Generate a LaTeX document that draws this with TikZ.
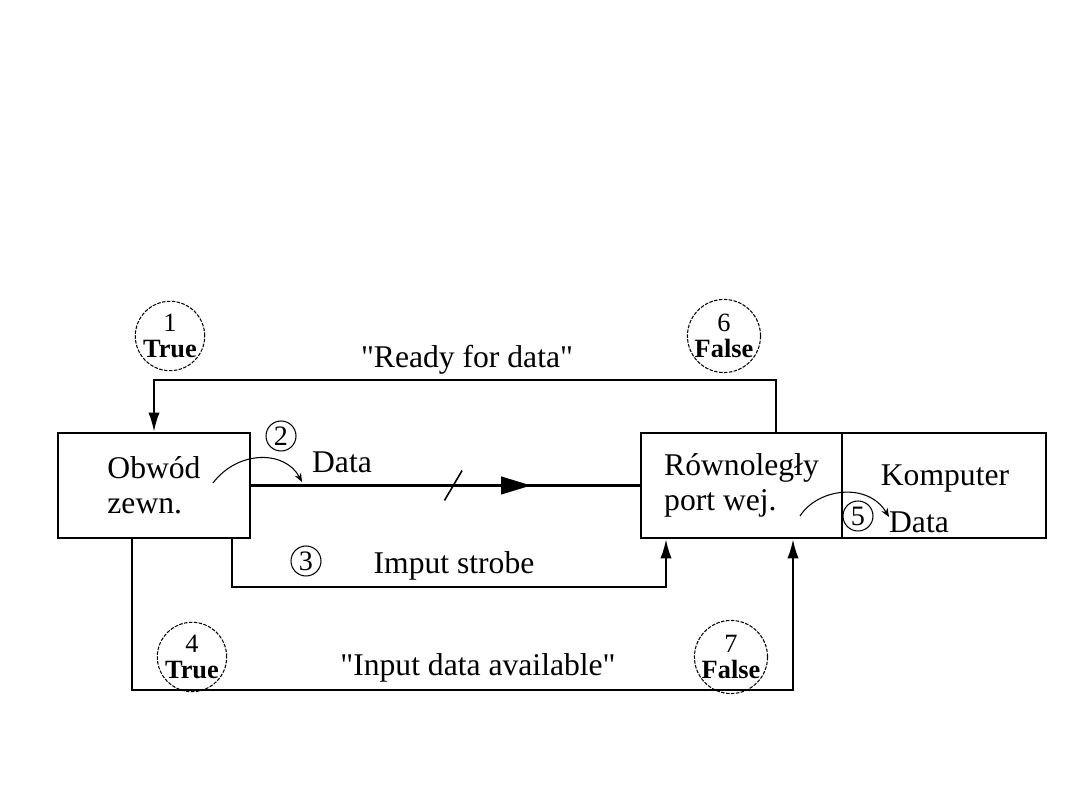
\documentclass[tikz,border=0pt]{standalone}
\usepackage{fontspec}
\setmainfont{Liberation Serif}[Ligatures=TeXOff]
\usetikzlibrary{arrows.meta,positioning,calc,decorations.markings}

\begin{document}
\begin{tikzpicture}[x=0.02cm, y=-0.02cm,
  blok/.style={draw, line width=1.3pt, minimum height=2.1cm, align=left, inner sep=0pt, font=\fontsize{18}{20}\selectfont},
  linia/.style={line width=1.3pt},
  grot/.style={-{Latex[length=11pt,width=6.5pt]}},
  opis/.style={font=\fontsize{18}{20}\selectfont, inner sep=1pt},
  kolko/.style={circle, draw, line width=0.6pt, dash pattern=on 2pt off 0.8pt, minimum size=1.32cm, inner sep=0pt, align=center, font=\fontsize{15}{15}\selectfont},
  maly/.style={circle, draw, line width=0.6pt, minimum size=0.6cm, inner sep=0pt, font=\fontsize{16}{14}\selectfont},
  luk/.style={line width=0.6pt, -{Stealth[length=5pt,width=4pt]}}
]
\useasboundingbox (0,0) rectangle (1080,810);

% bloki
\node[blok, minimum width=3.84cm] (obwod) at (154,485.5) {Obwód\\zewn.};
\node[blok, minimum width=4.02cm] (port) at (741.5,485.5) {Równoległy\\port wej.};
\node[blok, minimum width=4.08cm] (komp) at (944,485.5) {};
\node[opis] (kompLabel) at (945,479) {Komputer};

% polaczenia
\draw[linia, grot] ($(port.north)+(34.5,0)$) -- ++(0,-52) -| (obwod.north);
\draw[linia, postaction={decorate}, decoration={markings,
    mark=at position 0.52 with {\draw[line width=0.9pt] (-5pt,-8.5pt) -- (5pt,8.5pt);},
    mark=at position 0.72 with {\arrow{Triangle[length=17pt,width=10pt]}}}]
  (obwod.east) -- (port.west);
\draw[linia, grot] ($(obwod.south)+(78,0)$) -- ++(0,48) -| ($(port.south)+(-75.5,0)$);
\draw[linia, grot] ($(obwod.south)+(-22,0)$) -- ++(0,151) -| ($(port.south)+(51.5,0)$);

% etykiety
\node[opis] (readyLabel) at (467,360) {"Ready for data"};
\node[opis] (dataLabel) at (342,462) {Data};
\node[opis] (strobeLabel) at (454,566) {Imput strobe};
\node[opis] (availLabel) at (478,668) {"Input data available"};
\node[opis] (dataKomp) at (919,522) {Data};

% kolka
\node[kolko] (k1) at (170,336) {1\\\textbf{True}};
\node[kolko] (k6) at (724,336) {6\\\textbf{False}};
\node[kolko] (k4) at (192,657) {4\\\textbf{True}};
\node[kolko] (k7) at (731,657) {7\\\textbf{False}};
\node[maly] (n2) at (281,436) {2};
\node[maly] (n3) at (306,561) {3};
\node[maly] (n5) at (858,516) {5};

% luki
\coordinate (luk2a) at (213,483);
\coordinate (luk2b) at (302,482);
\draw[luk] (luk2a) .. controls (238,450) and (285,450) .. (luk2b);
\coordinate (luk5a) at (800,516);
\coordinate (luk5b) at (889,517);
\draw[luk] (luk5a) .. controls (818,488) and (868,482) .. (luk5b);
\end{tikzpicture}
\end{document}
